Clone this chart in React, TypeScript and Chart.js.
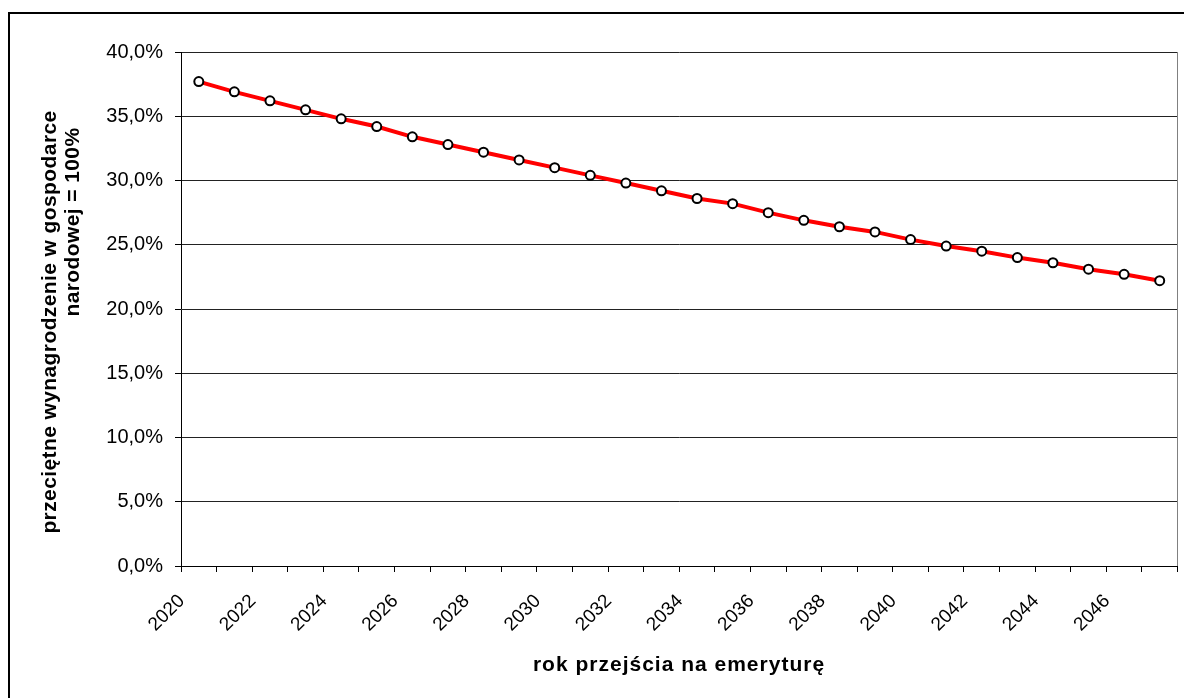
import React, { useEffect, useRef } from "react";
import { Chart, registerables } from "chart.js";

Chart.register(...registerables);

const years: string[] = [
  "2020", "2021", "2022", "2023", "2024", "2025", "2026", "2027", "2028", "2029",
  "2030", "2031", "2032", "2033", "2034", "2035", "2036", "2037", "2038", "2039",
  "2040", "2041", "2042", "2043", "2044", "2045", "2046", "2047",
];

const replacementRate: number[] = [
  37.7, 36.9, 36.2, 35.5, 34.8, 34.2, 33.4, 32.8, 32.2, 31.6,
  31.0, 30.4, 29.8, 29.2, 28.6, 28.2, 27.5, 26.9, 26.4, 26.0,
  25.4, 24.9, 24.5, 24.0, 23.6, 23.1, 22.7, 22.2,
];

const yTitleLines: string[] = ["przeciętne wynagrodzenie w gospodarce", "narodowej = 100%"];
const xTitle = "rok przejścia na emeryturę";

const FONT = "'Liberation Sans', Arial, sans-serif";

const titlesPlugin = {
  id: "customTitles",
  afterDraw(chart: any) {
    const { ctx, chartArea } = chart;
    ctx.save();
    // right plot-area border (grey)
    ctx.strokeStyle = "#808080";
    ctx.lineWidth = 1;
    ctx.beginPath();
    const rx = Math.round(chartArea.right) - 0.5;
    ctx.moveTo(rx, chartArea.top);
    ctx.lineTo(rx, chartArea.bottom);
    ctx.stroke();

    ctx.fillStyle = "#000";
    ctx.textAlign = "center";
    ctx.textBaseline = "middle";
    // x title
    ctx.font = `bold 21px ${FONT}`;
    (ctx as any).letterSpacing = "1px";
    ctx.fillText(xTitle, 679, 665);
    // y title (two lines, rotated)
    (ctx as any).letterSpacing = "0.4px";
    ctx.save();
    ctx.translate(50, 322);
    ctx.rotate(-Math.PI / 2);
    ctx.fillText(yTitleLines[0], 0, 0);
    ctx.restore();
    ctx.save();
    ctx.translate(73, 222);
    ctx.rotate(-Math.PI / 2);
    ctx.fillText(yTitleLines[1], 0, 0);
    ctx.restore();
    (ctx as any).letterSpacing = "0px";
    ctx.restore();
  },
};

export default function App() {
  const canvasRef = useRef<HTMLCanvasElement | null>(null);

  useEffect(() => {
    const canvas = canvasRef.current;
    if (!canvas) return;
    const chart = new Chart(canvas, {
      type: "line",
      data: {
        labels: years,
        datasets: [
          {
            data: replacementRate,
            borderColor: "#ff0000",
            borderWidth: 4,
            tension: 0,
            pointRadius: 4.5,
            pointBorderWidth: 2,
            pointBorderColor: "#000",
            pointBackgroundColor: "#fff",
            pointHoverRadius: 4.5,
          },
        ],
      },
      options: {
        responsive: false,
        animation: false,
        devicePixelRatio: 1,
        layout: { padding: { top: 52, right: 5.5, left: 0, bottom: 0 } },
        plugins: {
          legend: { display: false },
          title: { display: false },
          tooltip: { enabled: false },
        },
        scales: {
          x: {
            type: "category",
            offset: true,
            afterFit: (scale: any) => {
              scale.height = 132;
              scale.paddingLeft = 0;
              scale.paddingRight = 0;
            },
            grid: {
              offset: true,
              drawOnChartArea: false,
              drawTicks: true,
              tickLength: 6,
              color: "#000",
            },
            border: { display: true, color: "#000", width: 1 },
            ticks: {
              autoSkip: false,
              maxRotation: 45,
              minRotation: 45,
              padding: 18,
              labelOffset: -17,
              color: "#000",
              font: { family: FONT, size: 19 },
              callback: (_v: any, i: number) => (i % 2 === 0 ? years[i] : ""),
            },
          },
          y: {
            min: 0,
            max: 40,
            afterFit: (scale: any) => {
              scale.width = 181;
            },
            grid: {
              color: "#222",
              lineWidth: 1,
              drawTicks: true,
              tickLength: 6,
              tickColor: "#000",
            },
            border: { display: true, color: "#000", width: 1 },
            ticks: {
              stepSize: 5,
              padding: 12,
              color: "#000",
              font: { family: FONT, size: 20 },
              callback: (v: any) => Number(v).toFixed(1).replace(".", ",") + "%",
            },
          },
        },
      },
      plugins: [titlesPlugin],
    });
    return () => chart.destroy();
  }, []);

  return (
    <div
      style={{
        position: "fixed",
        left: 0,
        top: 0,
        width: 1184,
        height: 698,
        background: "#fff",
        overflow: "hidden",
      }}
    >
      <div
        style={{
          position: "absolute",
          left: 8,
          top: 12,
          width: 1300,
          height: 800,
          border: "2px solid #000",
        }}
      />
      <canvas
        ref={canvasRef}
        width={1184}
        height={698}
        style={{ position: "absolute", left: 0, top: 0 }}
      />
    </div>
  );
}
